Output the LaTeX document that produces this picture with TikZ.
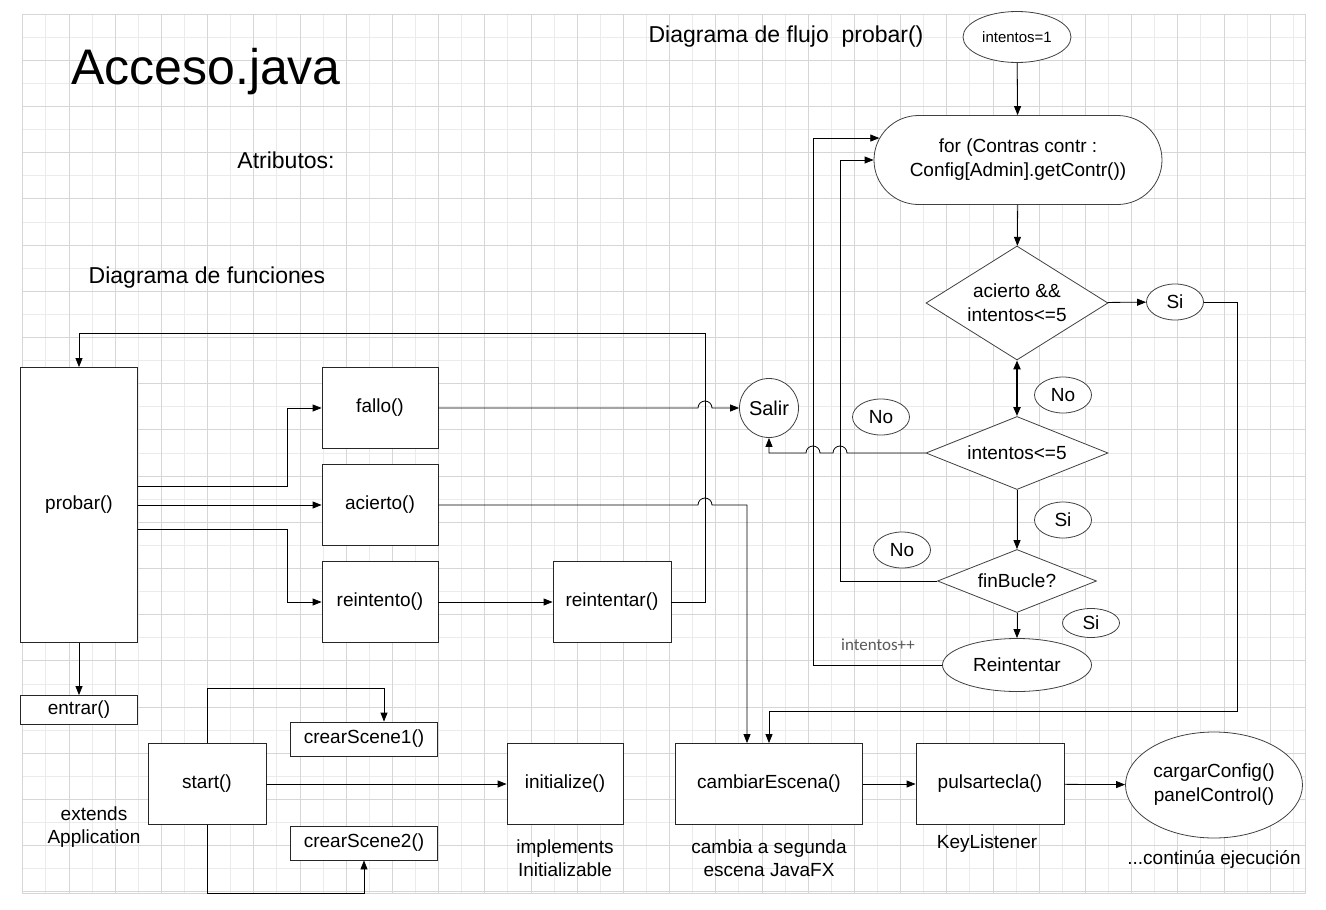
\documentclass[tikz,border=0pt]{standalone}
\usepackage{fontspec}
\setmainfont{Liberation Sans}
\newfontfamily\notefont{Carlito}
\usetikzlibrary{arrows.meta,positioning,calc,shapes.geometric,shapes.misc}

\begin{document}
\begin{tikzpicture}[>={Triangle[length=9pt,width=7pt]},x=1pt,y=-1pt,line width=0.8pt,
  gridminor/.style={draw=black!8,line width=0.8pt},
  gridmajor/.style={draw=black!16,line width=0.8pt},
  box/.style={draw=black!85,fill=white,inner sep=0pt,align=center,font=\fontsize{19}{24}\selectfont},
  loopbox/.style={rounded rectangle,draw=black!75,fill=white,inner sep=0pt,align=center,font=\fontsize{19}{24}\selectfont},
  decision/.style={diamond,draw=black!75,fill=white,inner sep=0pt,align=center,font=\fontsize{19}{24}\selectfont},
  oval/.style={ellipse,draw=black!75,fill=white,inner sep=0pt,align=center,font=\fontsize{19}{24}\selectfont},
  tag/.style={oval,minimum width=57,minimum height=36},
  note/.style={align=center,inner sep=0pt,font=\fontsize{19}{23}\selectfont},
  heading/.style={inner sep=0pt,font=\fontsize{23}{27}\selectfont}]
\useasboundingbox (0,0) rectangle (1326,910);

% grid
\foreach \i in {1,3,...,55}
  \draw[gridminor] (22.7+\i*23.1,14) -- (22.7+\i*23.1,893);
\foreach \j in {1,3,...,37}
  \draw[gridminor] (22,14+\j*23.1) -- (1305,14+\j*23.1);
\foreach \i in {0,2,...,54}
  \draw[gridmajor] (22.7+\i*23.1,14) -- (22.7+\i*23.1,893);
\foreach \j in {0,2,...,38}
  \draw[gridmajor] (22,14+\j*23.1) -- (1305,14+\j*23.1);
\draw[gridmajor] (22,14) rectangle (1305,893);

% titles
\node[inner sep=0pt,font=\fontsize{50}{56}\selectfont] (title) at (206,72) {Acceso.java};
\node[heading] (atrib) at (286,160) {Atributos:};
\node[heading] (funcs) at (207,278) {Diagrama de funciones};
\node[heading] (flujo) at (786,37) {Diagrama de flujo\ \ probar()};

% flow chart probar()
\node[oval,minimum width=108,minimum height=51,font=\fontsize{15}{18}\selectfont] (ini) at (1017,37) {intentos=1};
\node[loopbox,minimum width=288,minimum height=89] (for) at (1018,160) {for (Contras contr :\\Config[Admin].getContr())};
\node[decision,aspect=1.6,minimum width=182,minimum height=114] (d1) at (1017,303) {acierto \&\&\\intentos<=5};
\node[decision,aspect=2.5,minimum width=182,minimum height=73] (d2) at (1017,453) {intentos<=5};
\node[decision,aspect=2.5,minimum width=159,minimum height=63] (d3) at (1017,581) {finBucle?};
\node[oval,minimum width=149,minimum height=53] (rein) at (1017,665) {Reintentar};
\node[circle,draw=black!75,fill=white,inner sep=0pt,minimum size=59,font=\fontsize{20}{24}\selectfont] (salir) at (769,408) {Salir};
\node[tag] (si1) at (1175,302) {Si};
\node[tag] (no1) at (1063,395) {No};
\node[tag] (no2) at (881,417) {No};
\node[tag] (si2) at (1063,520) {Si};
\node[tag] (no3) at (902,550) {No};
\node[tag,minimum height=29] (si3) at (1091,623) {Si};
\node[inner sep=0pt,text=black!65,font=\notefont\fontsize{17}{20}\selectfont] (inc) at (878,645) {intentos++};

\draw[->] (ini) -- (for);
\draw[->] (for) -- (d1);
\draw[->] (d1) -- (si1);
\draw[<->,line width=2pt] (d1) -- (d2);
\draw[->] (d2) -- (d3);
\draw[->] (d3) -- (rein);
\draw[->] (d2.west) -- (847,453) arc[start angle=0,end angle=180,radius=7pt]
  -- (820,453) arc[start angle=0,end angle=180,radius=7pt] -| (salir.south);
\draw[->] (d3.west) -- (840,581) |- (for.west);
\draw[->] (rein.west) -- (813,665) |- (for.171);

% function diagram
\node[box,minimum width=117,minimum height=275] (probar) at (79,505) {probar()};
\node[box,minimum width=116,minimum height=81] (fallo) at (380,408) {fallo()};
\node[box,minimum width=116,minimum height=81] (acierto) at (380,505) {acierto()};
\node[box,minimum width=116,minimum height=81] (reintento) at (380,602) {reintento()};
\node[box,minimum width=118,minimum height=81] (reintentar) at (612,602) {reintentar()};
\node[box,minimum width=117,minimum height=29] (entrar) at (79,710) {entrar()};
\node[box,minimum width=118,minimum height=81] (start) at (207,784) {start()};
\node[box,minimum width=147,minimum height=34] (scene1) at (364,739) {crearScene1()};
\node[box,minimum width=147,minimum height=34] (scene2) at (364,843) {crearScene2()};
\node[box,minimum width=116,minimum height=81] (init) at (565,784) {initialize()};
\node[box,minimum width=187,minimum height=81] (cambiar) at (769,784) {cambiarEscena()};
\node[box,minimum width=148,minimum height=81] (pulsar) at (990,784) {pulsartecla()};
\node[oval,minimum width=177,minimum height=106] (cargar) at (1214,785) {cargarConfig()\\panelControl()};

\node[note] (ext) at (94,827) {extends\\Application};
\node[note] (impl) at (565,858) {implements\\Initializable};
\node[note] (escena) at (769,858) {cambia a segunda\\escena JavaFX};
\node[note] (keyl) at (987,844) {KeyListener};
\node[note] (sigue) at (1214,859) {...continúa ejecución};

\draw[->] ([yshift=19pt]probar.east) -- (287,486) |- (fallo.west);
\draw[->] (probar) -- (acierto);
\draw[->] ([yshift=-24pt]probar.east) -- (287,529) |- (reintento.west);
\draw[->] (reintento) -- (reintentar);
\draw[->] (reintentar.east) -| (705,333) -| (probar.north);
\draw[->] (fallo.east) -- (698,408) arc[start angle=180,end angle=0,radius=7pt] -- (salir);
\draw[->] (acierto.east) -- (698,505) arc[start angle=180,end angle=0,radius=7pt]
  -| ([xshift=-22pt]cambiar.north);
\draw[->] (si1.east) -| (1237,711) -| (cambiar.north);
\draw[->] (probar) -- (entrar);
\draw[->] (start.north) -- (207,688) -| ([xshift=20pt]scene1.north);
\draw[->] (start.south) -- (207,893) -| (scene2.south);
\draw[->] (start) -- (init);
\draw[->] (cambiar) -- (pulsar);
\draw[->] (pulsar) -- (cargar);
\end{tikzpicture}
\end{document}
